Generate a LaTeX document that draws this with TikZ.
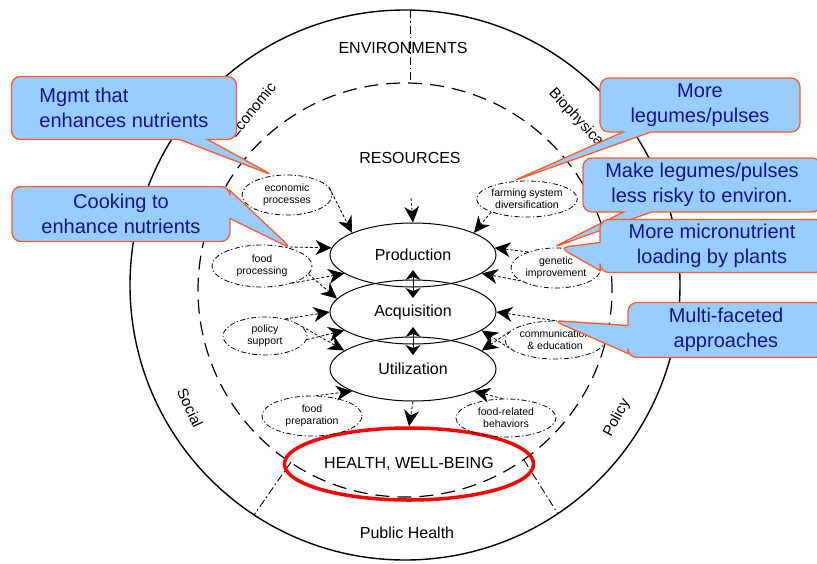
\documentclass[tikz,border=0pt]{standalone}
\usepackage{fontspec}
\setmainfont{Liberation Sans}
\usetikzlibrary{shapes.geometric,shapes.callouts,arrows.meta}
\definecolor{bubblefill}{HTML}{99CCFF}
\definecolor{bubbleedge}{HTML}{FF5A2A}
\definecolor{bubbletext}{HTML}{14148C}
\begin{document}
\begin{tikzpicture}[x=1pt,y=-1pt,
	lbl/.style={font=\fontsize{16}{18}\selectfont},
	ring/.style={font=\fontsize{15}{17}\selectfont},
	big/.style={draw,ellipse,line width=1pt,minimum width=166pt,minimum height=64pt,font=\fontsize{16}{18}\selectfont},
	small/.style={draw,ellipse,line width=0.8pt,dash pattern=on 1.2pt off 2.4pt on 5pt off 2.4pt,align=center,inner sep=0pt,font=\fontsize{10.5}{12}\selectfont},
	arr/.style={line width=0.8pt,densely dashed,-{Stealth[length=16pt,width=15pt,inset=5pt]}},
	dbl/.style={line width=1pt,{Stealth[length=10pt,width=15pt,inset=3pt]}-{Stealth[length=10pt,width=15pt,inset=3pt]}},
	divider/.style={line width=0.9pt,dash pattern=on 8pt off 3pt on 1.5pt off 3pt},
	bubble/.style={rectangle callout,rounded corners=9pt,fill=bubblefill,draw=bubbleedge,line width=1.3pt,text=bubbletext,align=center,callout pointer width=28pt,font=\fontsize{20}{25}\selectfont}]
	\useasboundingbox (0,0) rectangle (817,563);
	\draw[line width=1.4pt] (405,285) circle [radius=275pt];
	\draw[line width=1.2pt,dash pattern=on 14pt off 8pt] (405,290) circle [radius=207pt];
	\draw[divider] (410,10) -- (410,83);
	\draw[divider] (291,462) -- (254,515);
	\draw[divider] (524,460) -- (558,514);
	\node[lbl] (env) at (403,48) {ENVIRONMENTS};
	\node[lbl] (res) at (410,158) {RESOURCES};
	\node[ring,rotate=51] (econring) at (252,110) {Economic};
	\node[ring,rotate=-47] (bioring) at (577,119) {Biophysical};
	\node[ring,rotate=-65] (socring) at (190,408) {Social};
	\node[ring,rotate=62] (polring) at (617,418) {Policy};
	\node[lbl] (pubhealth) at (407,533) {Public Health};
	\node[big] (prod) at (413,255) {Production};
	\node[big] (acq) at (413,312) {Acquisition};
	\node[big] (util) at (413,369) {Utilization};
	\node[ellipse,draw=red,line width=3.5pt,minimum width=228pt,minimum height=72pt,lbl] (health) at (409,464) {HEALTH, WELL-BEING};
	\node[small,minimum width=90pt,minimum height=40pt] (econ) at (287,195) {economic\\processes};
	\node[small,minimum width=100pt,minimum height=36pt] (farm) at (527,199) {farming system\\diversification};
	\node[small,minimum width=100pt,minimum height=42pt] (foodproc) at (262,266) {food\\processing};
	\node[small,minimum width=90pt,minimum height=40pt] (gen) at (556,268) {genetic\\improvement};
	\node[small,minimum width=84pt,minimum height=38pt] (policy) at (265,336) {policy\\support};
	\node[small,minimum width=94pt,minimum height=38pt] (comm) at (555,340) {communication\\\& education};
	\node[small,minimum width=100pt,minimum height=40pt] (prep) at (312,416) {food\\preparation};
	\node[small,minimum width=100pt,minimum height=38pt] (behav) at (506,418) {food-related\\behaviors};
	\coordinate (resin) at (411,198);
	\draw[arr] (resin) -- (prod.north);
	\draw[arr] (econ.10) -- (prod.160);
	\draw[arr] (farm.200) -- (prod.20);
	\draw[arr] (foodproc.40) -- (prod.175);
	\draw[arr] (gen.150) -- (prod.5);
	\draw[arr] (foodproc.-30) -- (prod.195);
	\draw[arr] (foodproc.-10) -- (acq.170);
	\draw[arr] (gen.200) -- (prod.-15);
	\draw[arr] (policy.40) -- (acq.west);
	\draw[arr] (comm.north) -- (acq.east);
	\draw[arr] (policy.-5) -- (acq.195);
	\draw[arr] (comm.190) -- (acq.-15);
	\draw[arr] (policy.15) -- (util.165);
	\draw[arr] (comm.170) -- (util.15);
	\draw[arr] (prep.80) -- (util.200);
	\draw[arr] (behav.100) -- (util.-20);
	\draw[dbl,shorten <=15pt,shorten >=14pt] (prod.center) -- (acq.center);
	\draw[dbl,shorten <=15pt,shorten >=14pt] (acq.center) -- (util.center);
	\draw[arr] (util.south) -- (health.north);
	\node[bubble,minimum width=225pt,minimum height=63pt,align=left,callout absolute pointer={(econ.125)}] (mgmt) at (124,108) {Mgmt that\\enhances nutrients};
	\node[bubble,minimum width=218pt,minimum height=55pt,callout absolute pointer={(foodproc.30)}] (cook) at (121,214) {Cooking to\\enhance nutrients};
	\node[bubble,minimum width=200pt,minimum height=54pt,callout absolute pointer={(farm.130)}] (legumes) at (700,105) {More\\legumes/pulses};
	\node[bubble,minimum width=238pt,minimum height=54pt,callout absolute pointer={(gen.100)}] (risky) at (702,185) {Make legumes/pulses\\less risky to environ.};
	\node[bubble,minimum width=224pt,minimum height=53pt,callout absolute pointer={(gen.80)}] (micro) at (712,246) {More micronutrient\\loading by plants};
	\node[bubble,minimum width=196pt,minimum height=55pt,callout absolute pointer={(comm.95)}] (multi) at (726,330) {Multi-faceted\\approaches};
\end{tikzpicture}
\end{document}
